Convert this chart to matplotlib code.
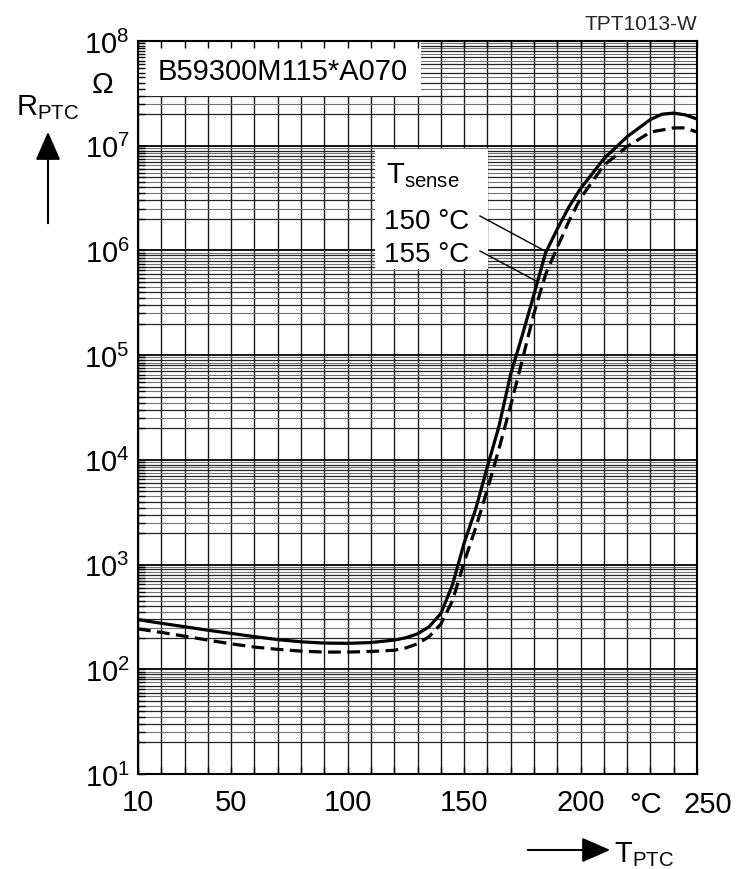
import matplotlib
matplotlib.use("Agg")
import matplotlib.pyplot as plt
import numpy as np
from matplotlib.patches import Rectangle, FancyArrowPatch

plt.rcParams['font.family'] = ['Liberation Sans', 'DejaVu Sans']
plt.rcParams['mathtext.fontset'] = 'custom'
plt.rcParams['mathtext.rm'] = 'Liberation Sans'
plt.rcParams['mathtext.it'] = 'Liberation Sans:italic'
plt.rcParams['mathtext.bf'] = 'Liberation Sans:bold'

# ---- data ----
# T_sense = 150 degC (solid)
t_150 = [10, 20, 30, 40, 50, 60, 70, 80, 90, 100, 110, 120, 125, 130, 135,
         140, 145, 150, 155, 160, 165, 170, 175, 180, 185, 190, 195, 200,
         210, 220, 230, 235, 240, 245, 250]
r_150 = [298, 275, 255, 236, 220, 205, 192, 183, 178, 177, 180, 190, 200,
         218, 255, 340, 640, 1600, 3400, 8600, 21000, 66000, 1.55e5, 3.8e5,
         9.5e5, 1.6e6, 2.6e6, 3.9e6, 7.5e6, 1.22e7, 1.78e7, 2.0e7, 2.05e7,
         1.97e7, 1.8e7]

# T_sense = 155 degC (dashed)
t_155 = [10, 20, 30, 40, 50, 60, 70, 80, 90, 100, 110, 120, 125, 130, 135,
         140, 145, 150, 155, 160, 165, 170, 175, 180, 185, 190, 195, 200,
         210, 220, 230, 240, 245, 250]
r_155 = [243, 225, 207, 190, 175, 163, 155, 149, 146, 146, 148, 152, 160,
         175, 205, 270, 450, 1050, 2250, 5200, 12800, 33000, 90000, 2.5e5,
         5.9e5, 1.07e6, 1.9e6, 3.15e6, 6.5e6, 9.8e6, 1.35e7, 1.48e7, 1.48e7,
         1.35e7]

x_grid = np.arange(10, 251, 10)
x_labelled = [10, 50, 100, 150, 200]
y_decades = 10.0 ** np.arange(1, 9)
y_mant_major = [2, 3, 4, 5, 6, 7, 8, 9]
y_mant_half = [2.5, 3.5, 4.5, 5.5, 6.5, 7.5, 8.5, 9.5]

W, H = 739, 870
L, R, T, B = 138, 697, 42, 775          # plot frame in pixels


def ax_x(px):
    return (px - L) / (R - L)


def ax_y(py):
    return (B - py) / (B - T)


def fx(px):
    return px / W


def fy(py):
    return 1 - py / H


fig = plt.figure(figsize=(W / 100, H / 100), dpi=100, facecolor="white")
ax = fig.add_axes([L / W, 1 - B / H, (R - L) / W, (B - T) / H])
ax.set_yscale("log")
ax.set_xlim(10, 250)
ax.set_ylim(1e1, 1e8)

# grid drawn by hand so the label boxes can sit on top of it
for xv in x_grid:
    ax.axvline(xv, color="0.1", lw=1.0, zorder=1)
for dec in y_decades[:-1]:
    ax.axhline(dec, color="black", lw=1.3, zorder=1)
    for m in y_mant_major:
        ax.axhline(dec * m, color="0.15", lw=0.9, zorder=1)
    for m in y_mant_half:
        ax.axhline(dec * m, color="0.45", lw=0.8, zorder=1)

ax.plot(t_150, r_150, "-", color="black", lw=2.3, zorder=3)
ax.plot(t_155, r_155, "--", color="black", lw=2.3, dashes=(4, 2), zorder=3)

# ticks / labels
ax.set_axisbelow(False)
ax.set_xticks(x_grid)
ax.set_xticklabels([str(v) if v in x_labelled else "" for v in x_grid],
                   fontsize=21)
ax.set_yticks(y_decades)
ax.set_yticklabels([r"$\mathregular{10^{%d}}$" % e for e in range(1, 9)],
                   fontsize=21)
ax.set_yticks([d * m for d in y_decades[:-1]
               for m in y_mant_major + y_mant_half], minor=True)
ax.yaxis.set_minor_formatter(plt.NullFormatter())
ax.tick_params(which="both", direction="in", length=5, width=1.0,
               top=True, right=False, colors="black")
ax.tick_params(axis="x", pad=10)
ax.tick_params(axis="y", pad=6)
for s in ax.spines.values():
    s.set_color("black")
    s.set_linewidth(1.5)

ax.text(ax_x(708), -16 / (B - T), "250", transform=ax.transAxes,
        fontsize=21, ha="center", va="top")
ax.text(ax_x(646), -16 / (B - T), "°C", transform=ax.transAxes,
        fontsize=21, ha="center", va="top")

# part number box
ax.add_patch(Rectangle((0, ax_y(97)), ax_x(421), 1 - ax_y(97),
                       transform=ax.transAxes, facecolor="white",
                       edgecolor="none", zorder=2))
ax.text(ax_x(158), ax_y(72), "B59300M115*A070", transform=ax.transAxes,
        fontsize=21, ha="left", va="center", zorder=4)

# T_sense legend box
ax.add_patch(Rectangle((ax_x(375), ax_y(270)), ax_x(488) - ax_x(375),
                       ax_y(150) - ax_y(270), transform=ax.transAxes,
                       facecolor="white", edgecolor="none", zorder=2))
ax.text(ax_x(386), ax_y(183), r"$\mathregular{T_{sense}}$",
        transform=ax.transAxes, fontsize=21, ha="left", va="baseline",
        zorder=4)
ax.text(ax_x(384), ax_y(229), "150 °C", transform=ax.transAxes,
        fontsize=20, ha="left", va="baseline", zorder=4)
ax.text(ax_x(384), ax_y(262), "155 °C", transform=ax.transAxes,
        fontsize=20, ha="left", va="baseline", zorder=4)
ax.plot([ax_x(480), ax_x(545)], [ax_y(217), ax_y(252)], color="black",
        lw=1.0, transform=ax.transAxes, zorder=4)
ax.plot([ax_x(480), ax_x(538)], [ax_y(252), ax_y(283)], color="black",
        lw=1.0, transform=ax.transAxes, zorder=4)

# axis captions in figure pixels
fig.text(fx(697), fy(25), "TPT1013-W", fontsize=15, ha="right",
         va="center", color="0.15")
fig.text(fx(103), fy(85), "Ω", fontsize=21, ha="center", va="center")
fig.text(fx(16), fy(115), r"$\mathregular{R_{PTC}}$", fontsize=21,
         ha="left", va="baseline")
fig.add_artist(FancyArrowPatch(
    (fx(48), fy(227)), (fx(48), fy(130)), transform=fig.transFigure,
    arrowstyle="-|>,head_length=8,head_width=3.5", color="black", lw=1.5,
    mutation_scale=2.2))
fig.text(fx(614), fy(862), r"$\mathregular{T_{PTC}}$", fontsize=21,
         ha="left", va="baseline")
fig.add_artist(FancyArrowPatch(
    (fx(525), fy(851)), (fx(613), fy(851)), transform=fig.transFigure,
    arrowstyle="-|>,head_length=8,head_width=3.5", color="black", lw=1.5,
    mutation_scale=2.2))

fig.savefig("out.png", dpi=100, facecolor="white")
